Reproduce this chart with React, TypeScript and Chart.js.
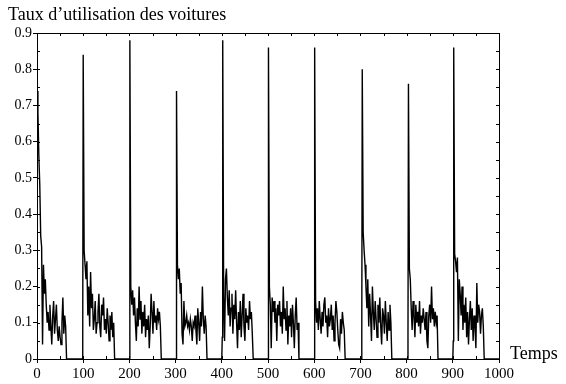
import React, { useEffect, useRef } from "react";
import { Chart, registerables } from "chart.js";

Chart.register(...registerables);

const titleText = "Taux d’utilisation des voitures";
const xAxisLabel = "Temps";

const cycleStarts = [0, 100, 201, 302, 402, 501, 601, 704, 804, 902];
const preBumps = [0, 0.06, 0, 0, 0.06, 0, 0, 0.06, 0.06, 0.05];
const sampleStep = 2;

const cycle0 = [0.74, 0.68, 0.56, 0.48, 0.34, 0.31, 0.04, 0.26, 0.18, 0.22, 0.15, 0.10, 0.13, 0.08, 0.15, 0.09, 0.04, 0.12, 0.16, 0.07, 0.11, 0.15, 0.08, 0.05, 0.09, 0.06, 0.04, 0.10, 0.17, 0.07, 0.12, 0.09];
const cycle1 = [0.84, 0.30, 0.26, 0.22, 0.27, 0.12, 0.20, 0.09, 0.24, 0.14, 0.18, 0.08, 0.11, 0.16, 0.07, 0.10, 0.13, 0.18, 0.09, 0.06, 0.15, 0.12, 0.17, 0.08, 0.11, 0.07, 0.14, 0.10, 0.05, 0.12, 0.08, 0.13, 0.06, 0.10];
const cycle2 = [0.88, 0.20, 0.15, 0.19, 0.12, 0.17, 0.10, 0.05, 0.14, 0.09, 0.20, 0.11, 0.16, 0.07, 0.13, 0.09, 0.15, 0.06, 0.11, 0.08, 0.12, 0.03, 0.09, 0.18, 0.13, 0.07, 0.16, 0.10, 0.12, 0.08, 0.14, 0.11, 0.13, 0.09];
const cycle3 = [0.74, 0.26, 0.22, 0.25, 0.18, 0.21, 0.07, 0.04, 0.16, 0.09, 0.10, 0.12, 0.09, 0.10, 0.08, 0.11, 0.09, 0.05, 0.10, 0.09, 0.12, 0.08, 0.04, 0.14, 0.10, 0.05, 0.13, 0.09, 0.20, 0.11, 0.07, 0.12, 0.09];
const cycle4 = [0.88, 0.18, 0.05, 0.22, 0.25, 0.17, 0.12, 0.19, 0.09, 0.14, 0.18, 0.07, 0.15, 0.11, 0.19, 0.10, 0.03, 0.13, 0.08, 0.16, 0.06, 0.12, 0.18, 0.09, 0.05, 0.14, 0.10, 0.12, 0.08, 0.16, 0.11, 0.13, 0.07];
const cycle5 = [0.86, 0.20, 0.15, 0.03, 0.17, 0.13, 0.16, 0.10, 0.14, 0.05, 0.15, 0.12, 0.16, 0.09, 0.13, 0.07, 0.20, 0.11, 0.14, 0.08, 0.16, 0.04, 0.12, 0.09, 0.14, 0.06, 0.15, 0.10, 0.03, 0.12, 0.17, 0.08, 0.10];
const cycle6 = [0.86, 0.16, 0.10, 0.14, 0.08, 0.16, 0.11, 0.07, 0.13, 0.09, 0.15, 0.17, 0.10, 0.12, 0.06, 0.14, 0.09, 0.11, 0.15, 0.08, 0.12, 0.05, 0.10, 0.16, 0.13, 0.08, 0.04, 0.03, 0.11, 0.07, 0.13, 0.10, 0.08];
const cycle7 = [0.80, 0.35, 0.30, 0.26, 0.20, 0.14, 0.22, 0.09, 0.18, 0.12, 0.05, 0.20, 0.13, 0.08, 0.16, 0.11, 0.06, 0.15, 0.10, 0.17, 0.09, 0.04, 0.14, 0.12, 0.07, 0.16, 0.10, 0.05, 0.13, 0.08, 0.15, 0.10];
const cycle8 = [0.76, 0.25, 0.22, 0.14, 0.08, 0.16, 0.12, 0.06, 0.15, 0.10, 0.13, 0.09, 0.16, 0.07, 0.12, 0.10, 0.14, 0.11, 0.08, 0.13, 0.05, 0.03, 0.12, 0.15, 0.10, 0.20, 0.11, 0.14, 0.09, 0.13, 0.10, 0.12];
const cycle9 = [0.86, 0.29, 0.27, 0.24, 0.28, 0.05, 0.22, 0.18, 0.12, 0.20, 0.08, 0.15, 0.10, 0.17, 0.06, 0.13, 0.04, 0.11, 0.16, 0.08, 0.14, 0.05, 0.12, 0.09, 0.03, 0.21, 0.10, 0.15, 0.13, 0.07, 0.12, 0.14, 0.09];

const cycles = [cycle0, cycle1, cycle2, cycle3, cycle4, cycle5, cycle6, cycle7, cycle8, cycle9];

const xMin = 0;
const xMax = 1000;
const xStep = 100;
const yMin = 0;
const yMax = 0.9;
const yStep = 0.1;

function buildPoints() {
  const pts: { x: number; y: number }[] = [];
  cycles.forEach((vals, i) => {
    const s = cycleStarts[i];
    if (i > 0) {
      pts.push({ x: s - 2, y: 0 });
      pts.push({ x: s - 1, y: preBumps[i] });
    }
    vals.forEach((v, j) => pts.push({ x: s + j * sampleStep, y: v }));
    pts.push({ x: s + vals.length * sampleStep, y: 0 });
  });
  pts.push({ x: xMax, y: 0 });
  return pts;
}

const SERIF = "'Liberation Serif', 'Times New Roman', serif";

const framePlugin = {
  id: "frame",
  afterDraw(chart: any) {
    const { ctx, chartArea: a, scales } = chart;
    ctx.save();
    ctx.strokeStyle = "#000";
    ctx.lineWidth = 1;
    ctx.strokeRect(a.left + 0.5, a.top + 0.5, a.right - a.left, a.bottom - a.top);
    ctx.beginPath();
    const xs = scales.x;
    for (let v = xMin; v <= xMax; v += xStep / 2) {
      const px = Math.round(xs.getPixelForValue(v)) + 0.5;
      ctx.moveTo(px, a.bottom);
      ctx.lineTo(px, a.bottom - 3);
      ctx.moveTo(px, a.top);
      ctx.lineTo(px, a.top + 3);
    }
    const ys = scales.y;
    for (let k = 0; k <= 18; k++) {
      const v = (k * yStep) / 2;
      const py = Math.round(ys.getPixelForValue(v)) + 0.5;
      ctx.moveTo(a.left, py);
      ctx.lineTo(a.left + 3, py);
      ctx.moveTo(a.right, py);
      ctx.lineTo(a.right - 3, py);
    }
    ctx.stroke();
    ctx.fillStyle = "#000";
    ctx.font = `18px ${SERIF}`;
    ctx.textBaseline = "alphabetic";
    ctx.textAlign = "left";
    ctx.fillText(titleText, 8, 20);
    ctx.fillText(xAxisLabel, a.right + 11, a.bottom);
    ctx.restore();
  },
};

export default function App() {
  const ref = useRef<HTMLCanvasElement | null>(null);
  useEffect(() => {
    if (!ref.current) return;
    const chart = new Chart(ref.current, {
      type: "line",
      data: {
        datasets: [
          {
            data: buildPoints(),
            borderColor: "#000",
            borderWidth: 1.4,
            pointRadius: 0,
            tension: 0,
            fill: false,
          },
        ],
      },
      options: {
        animation: false,
        responsive: false,
        layout: { padding: { left: 0, top: 33, right: 67, bottom: 0 } },
        plugins: { legend: { display: false }, tooltip: { enabled: false }, title: { display: false } },
        scales: {
          x: {
            type: "linear",
            min: xMin,
            max: xMax,
            afterFit: (s: any) => {
              s.height = 25;
            },
            ticks: {
              stepSize: xStep,
              autoSkip: false,
              maxRotation: 0,
              color: "#000",
              padding: 2,
              font: { family: SERIF, size: 15 },
              callback: (v: any) => String(Math.round(Number(v))),
            },
            grid: { drawOnChartArea: false, drawTicks: true, tickLength: 4, color: "#000" },
            border: { display: true, color: "#000", width: 1 },
          },
          y: {
            type: "linear",
            min: yMin,
            max: yMax,
            afterFit: (s: any) => {
              s.width = 37;
            },
            ticks: {
              stepSize: yStep,
              color: "#000",
              padding: 1,
              font: { family: SERIF, size: 14 },
              callback: (v: any) => (Number(v) === 0 ? "0" : Number(v).toFixed(1)),
            },
            grid: { drawOnChartArea: false, drawTicks: true, tickLength: 4, color: "#000" },
            border: { display: true, color: "#000", width: 1 },
          },
        },
      },
      plugins: [framePlugin],
    });
    return () => chart.destroy();
  }, []);
  return (
    <div style={{ position: "absolute", left: 0, top: 0, width: 566, height: 384, background: "#fff" }}>
      <canvas ref={ref} width={566} height={384} />
    </div>
  );
}
